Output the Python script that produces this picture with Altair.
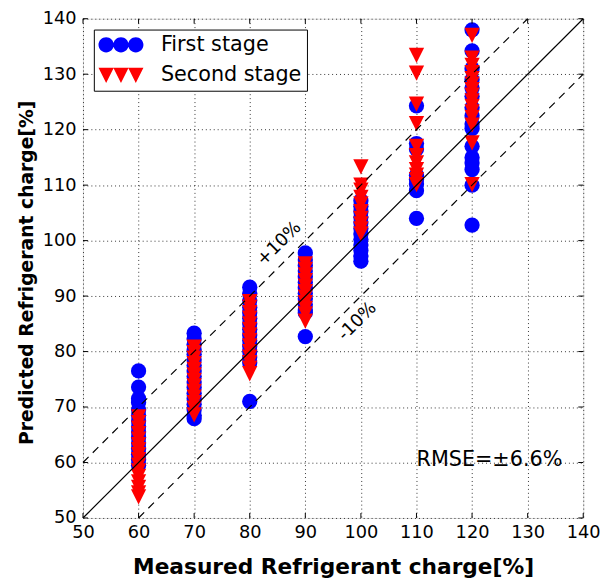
import altair as alt
import pandas as pd

# ---- data ----
x_levels = [60, 70, 80, 90, 100, 110, 120]

first_60 = [76.5, 73.6, 71.5, 70.8, 69.5, 68.5, 67.5, 66.5, 65.5, 64.5, 63.5, 62.5, 61.5, 60.5, 59.5]
first_70 = [83.3, 82.3, 81.3, 80.3, 79.5, 78.5, 77.5, 76.5, 75.5, 74.5, 73.5, 72.5, 71.5, 70.5, 69.5, 68.5, 67.9]
first_80 = [91.6, 90.5, 89.2, 88.0, 87.0, 86.0, 85.0, 84.0, 83.0, 82.0, 81.0, 80.0, 79.0, 78.0, 71.0]
first_90 = [97.8, 96.5, 95.5, 94.5, 93.5, 92.5, 91.5, 90.5, 89.5, 88.5, 87.5, 87.0, 82.7]
first_100 = [107.2, 106.2, 105.2, 104.2, 103.2, 102.2, 101.2, 100.2, 99.2, 98.2, 97.2, 96.3]
first_110 = [124.3, 117.5, 116.5, 111.8, 111.0, 110.2, 109.0, 104.0]
first_120 = [138.0, 134.2, 131.0, 129.0, 127.5, 126.0, 124.0, 122.5, 121.0, 120.2, 117.0, 115.0, 114.0, 112.8, 110.0, 102.8]

second_60 = [68.2, 67.2, 66.2, 65.2, 64.2, 63.2, 62.3, 61.4, 60.5, 59.5, 58.5, 57.5, 56.5, 55.5, 54.5, 53.8]
second_70 = [80.8, 79.8, 78.8, 77.8, 76.8, 75.8, 74.8, 73.8, 72.8, 71.8, 70.8, 69.8, 68.6]
second_80 = [89.0, 88.0, 87.0, 86.0, 85.0, 84.0, 83.0, 82.0, 81.0, 80.0, 79.0, 78.0, 77.0, 76.0]
second_90 = [95.8, 94.8, 93.8, 92.8, 91.8, 90.8, 89.8, 88.8, 87.8, 86.8, 85.5]
second_100 = [113.3, 110.0, 109.1, 107.8, 106.6, 105.2, 104.0, 103.0, 102.1, 101.2]
second_110 = [133.4, 130.2, 124.6, 121.1, 117.0, 115.3, 114.0, 112.8, 111.8, 111.0, 110.1]
second_120 = [137.0, 132.9, 131.6, 130.3, 129.2, 128.2, 127.2, 126.2, 125.2, 124.2, 123.2, 122.2, 120.8, 117.6, 110.1]

series_names = ["First stage", "Second stage"]
series_colors = ["#0000ff", "#ff0000"]

ideal_x = [50, 140]
ideal_y = [50, 140]
plus_x = [50, 130]
plus_y = [60, 140]
minus_x = [60, 140]
minus_y = [50, 130]

note_text = ["+10%", "-10%"]
note_x = [85.3, 99.4]
note_y = [99.4, 85.4]
rmse_text = ["RMSE=\u00b16.6%"]
rmse_x = [110.0]
rmse_y = [60.45]

tick_values = list(range(50, 141, 10))

# ---- tables ----
first_lists = [first_60, first_70, first_80, first_90, first_100, first_110, first_120]
second_lists = [second_60, second_70, second_80, second_90, second_100, second_110, second_120]

rows = []
for xv, ys in zip(x_levels, first_lists):
    for yv in ys:
        rows.append({"measured": xv, "predicted": yv, "series": series_names[0]})
first_df = pd.DataFrame(rows)
rows = []
for xv, ys in zip(x_levels, second_lists):
    for yv in ys:
        rows.append({"measured": xv, "predicted": yv, "series": series_names[1]})
second_df = pd.DataFrame(rows)
all_df = pd.concat([first_df, second_df], ignore_index=True)

W, H = 507, 506
FONT = "DejaVu Sans"

xscale = alt.Scale(domain=[50, 140], nice=False, zero=False)
yscale = alt.Scale(domain=[50, 140], nice=False, zero=False)

xaxis = alt.Axis(values=tick_values, title="Measured Refrigerant charge[%]", grid=True,
                 gridDash=[1, 3], gridColor="black", gridOpacity=0.8, ticks=False, domain=False,
                 labelFontSize=18, labelFont=FONT, labelColor="black", labelPadding=6,
                 labelFlush=False, labelOverlap=False,
                 titleFontSize=22, titleFont=FONT, titleFontWeight="bold", titleColor="black",
                 titlePadding=15)
yaxis = alt.Axis(values=tick_values, title="Predicted Refrigerant charge[%]", grid=True,
                 gridDash=[1, 3], gridColor="black", gridOpacity=0.8, ticks=False, domain=False,
                 labelFontSize=18, labelFont=FONT, labelColor="black", labelPadding=7,
                 labelFlush=False, labelOverlap=False,
                 titleFontSize=19, titleFont=FONT, titleFontWeight="bold", titleColor="black",
                 titlePadding=6, titleY=257)

def circ(cx, r):
    return f"M{cx - r:.3f},0A{r},{r} 0 1,0 {cx + r:.3f},0A{r},{r} 0 1,0 {cx - r:.3f},0Z"

def tri(cx, h):
    return f"M{cx - h:.3f},{-h}L{cx + h:.3f},{-h}L{cx:.3f},{h}Z"

three_circles = "".join(circ(c, 1) for c in (-1.94, 0.0, 1.94))
three_tris = "".join(tri(c, 1) for c in (-1.94, 0.0, 1.94))
tri_down = "M-1,-1L1,-1L0,1Z"

base = alt.Chart(all_df)

legend_layer = base.transform_filter("false").mark_point(filled=True, strokeWidth=0, opacity=1).encode(
    x=alt.X("measured:Q", scale=xscale, axis=xaxis),
    y=alt.Y("predicted:Q", scale=yscale, axis=yaxis),
    color=alt.Color("series:N", scale=alt.Scale(domain=series_names, range=series_colors),
                    legend=alt.Legend(title=None, orient="top-left", offset=11,
                                      strokeColor="black", fillColor="white", padding=5,
                                      labelFontSize=21, labelFont=FONT, labelColor="black",
                                      symbolSize=240, symbolOffset=12, labelOffset=30,
                                      rowPadding=9, symbolStrokeWidth=0, symbolOpacity=1)),
    shape=alt.Shape("series:N", scale=alt.Scale(domain=series_names, range=[three_circles, three_tris])),
)

first_layer = alt.Chart(first_df).mark_point(shape="circle", filled=True, size=240, color=series_colors[0],
                                             opacity=1, strokeWidth=0).encode(
    x=alt.X("measured:Q", scale=xscale), y=alt.Y("predicted:Q", scale=yscale))
second_layer = alt.Chart(second_df).mark_point(shape=tri_down, filled=True, size=240, color=series_colors[1],
                                               opacity=1, strokeWidth=0).encode(
    x=alt.X("measured:Q", scale=xscale), y=alt.Y("predicted:Q", scale=yscale))

ideal = alt.Chart(pd.DataFrame({"x": ideal_x, "y": ideal_y})).mark_line(color="black", strokeWidth=1.2).encode(
    x=alt.X("x:Q", scale=xscale), y=alt.Y("y:Q", scale=yscale))
plus = alt.Chart(pd.DataFrame({"x": plus_x, "y": plus_y})).mark_line(
    color="black", strokeWidth=1.2, strokeDash=[8, 6]).encode(
    x=alt.X("x:Q", scale=xscale), y=alt.Y("y:Q", scale=yscale))
minus = alt.Chart(pd.DataFrame({"x": minus_x, "y": minus_y})).mark_line(
    color="black", strokeWidth=1.2, strokeDash=[8, 6]).encode(
    x=alt.X("x:Q", scale=xscale), y=alt.Y("y:Q", scale=yscale))

notes = alt.Chart(pd.DataFrame({"t": note_text, "x": note_x, "y": note_y})).mark_text(
    angle=315, fontSize=18, font=FONT, color="black", align="center", baseline="middle").encode(
    x=alt.X("x:Q", scale=xscale), y=alt.Y("y:Q", scale=yscale), text="t:N")
rmse = alt.Chart(pd.DataFrame({"t": rmse_text, "x": rmse_x, "y": rmse_y})).mark_text(
    fontSize=21, font=FONT, color="black", align="left", baseline="middle").encode(
    x=alt.X("x:Q", scale=xscale), y=alt.Y("y:Q", scale=yscale), text="t:N")

ticks_df = pd.DataFrame({"v": tick_values})
tk = alt.Chart(ticks_df)
tick_bottom = tk.mark_rule(color="black", strokeWidth=1).encode(
    x=alt.X("v:Q", scale=xscale), y=alt.value(H), y2=alt.value(H - 5))
tick_top = tk.mark_rule(color="black", strokeWidth=1).encode(
    x=alt.X("v:Q", scale=xscale), y=alt.value(0), y2=alt.value(5))
tick_left = tk.mark_rule(color="black", strokeWidth=1).encode(
    y=alt.Y("v:Q", scale=yscale), x=alt.value(0), x2=alt.value(5))
tick_right = tk.mark_rule(color="black", strokeWidth=1).encode(
    y=alt.Y("v:Q", scale=yscale), x=alt.value(W), x2=alt.value(W - 5))

chart = alt.layer(
    legend_layer, first_layer, second_layer, ideal, plus, minus, notes, rmse,
    tick_bottom, tick_top, tick_left, tick_right
).properties(
    width=W, height=H, autosize="none",
    padding={"left": 76, "top": 7, "right": 17, "bottom": 58},
).configure_view(stroke="black", strokeWidth=1.5).configure(background="white")

chart.save("out.html", embed_options={"renderer": "svg", "actions": False})
